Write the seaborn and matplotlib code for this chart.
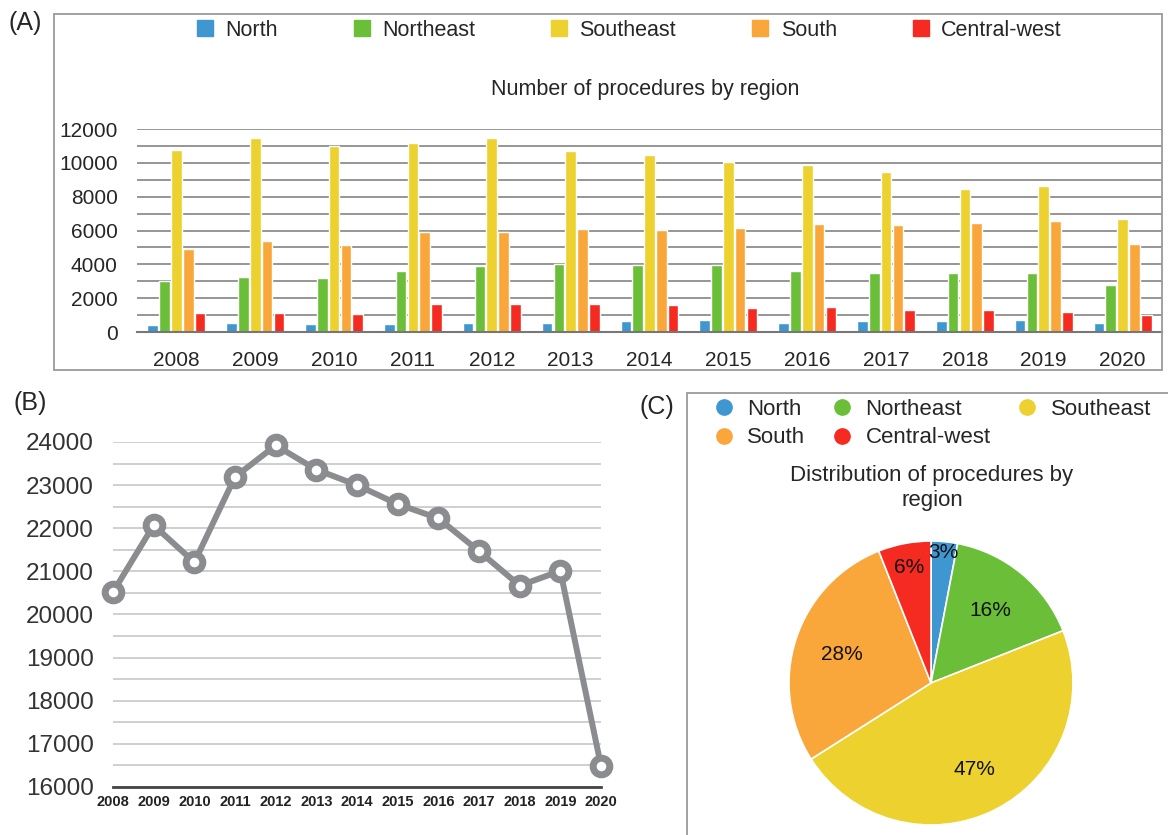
import numpy as np
import pandas as pd
import matplotlib
matplotlib.use("Agg")
import matplotlib.pyplot as plt
from matplotlib.patches import Rectangle
from matplotlib.lines import Line2D
from matplotlib.ticker import MultipleLocator, FixedLocator
import seaborn as sns

# data
years = [2008, 2009, 2010, 2011, 2012, 2013, 2014, 2015, 2016, 2017, 2018, 2019, 2020]
regions = ["North", "Northeast", "Southeast", "South", "Central-west"]
north = [410, 550, 470, 470, 550, 550, 630, 690, 550, 630, 630, 690, 550]
northeast = [3020, 3250, 3180, 3600, 3900, 4040, 3960, 3960, 3610, 3470, 3470, 3470, 2800]
southeast = [10750, 11450, 10990, 11200, 11460, 10670, 10470, 10020, 9860, 9430, 8480, 8620, 6670]
south = [4910, 5350, 5150, 5940, 5940, 6090, 6030, 6170, 6390, 6310, 6450, 6590, 5210]
central_west = [1150, 1150, 1070, 1650, 1650, 1650, 1580, 1420, 1500, 1280, 1280, 1200, 990]
totals = [20520, 22070, 21210, 23190, 23920, 23360, 23000, 22560, 22230, 21470, 20670, 21010, 16490]
share_pct = [3, 16, 47, 28, 6]

colors = ["#3f97d1", "#6bbe37", "#ecd12f", "#f9a73a", "#f52a20"]
line_gray = "#8b8c90"

sns.set_style("white")
plt.rcParams["font.family"] = ["Liberation Sans", "DejaVu Sans"]

W, H = 1168, 835
fig = plt.figure(figsize=(W / 100, H / 100), dpi=100)

def box(x0, y0, x1, y1):
    # pixel box (top-left origin) -> figure fraction rect
    return [x0 / W, 1 - y1 / H, (x1 - x0) / W, (y1 - y0) / H]

# panel frames
for x0, y0, x1, y1 in [(54, 14, 1162, 370), (687, 393, 1175, 845)]:
    fig.patches.append(Rectangle((x0 / W, 1 - y1 / H), (x1 - x0) / W, (y1 - y0) / H,
                                 transform=fig.transFigure, fill=False,
                                 edgecolor="#9a9a9a", lw=1.3, zorder=0))

# ---------- (A) bars ----------
counts = pd.DataFrame({"year": years, "North": north, "Northeast": northeast,
                       "Southeast": southeast, "South": south,
                       "Central-west": central_west})
counts = counts.melt(id_vars="year", var_name="region", value_name="procedures")

ax_a = fig.add_axes(box(137, 129, 1162, 332))
sns.barplot(data=counts, x="year", y="procedures", hue="region", hue_order=regions,
            palette=colors, saturation=1, width=0.75, gap=0.1, legend=False, ax=ax_a)
ax_a.set_ylim(0, 12000)
ax_a.set_xlim(-0.5, len(years) - 0.5)
ax_a.yaxis.set_major_locator(MultipleLocator(2000))
ax_a.yaxis.set_minor_locator(MultipleLocator(1000))
ax_a.grid(axis="y", which="both", color="#8e8e8e", lw=1.3)
ax_a.set_axisbelow(True)
ax_a.xaxis.set_minor_locator(FixedLocator(np.arange(-0.5, len(years), 1)))
ax_a.tick_params(axis="x", which="major", length=0, pad=14, labelsize=15)
ax_a.tick_params(axis="x", which="minor", length=4, color="#777777", direction="out")
ax_a.tick_params(axis="y", length=0, pad=14, labelsize=15)
ax_a.set_xlabel("")
ax_a.set_ylabel("")
for s in ["top", "left", "right"]:
    ax_a.spines[s].set_visible(False)
ax_a.spines["bottom"].set_color("#777777")
ax_a.spines["bottom"].set_linewidth(1.5)

sq = [Line2D([], [], ls="", marker="s", ms=11, color=c) for c in colors]
fig.legend(sq, regions, loc="upper left", bbox_to_anchor=(194 / W, 1 - 20 / H),
           ncol=5, frameon=False, fontsize=15.5, handlelength=1, handletextpad=0.45,
           columnspacing=3.4, borderpad=0, borderaxespad=0)
fig.text(645 / W, 1 - 90 / H, "Number of procedures by region", ha="center",
         va="center", fontsize=15.5)

# ---------- (B) totals ----------
ax_b = fig.add_axes(box(113, 442, 601, 787))
sns.lineplot(x=years, y=totals, ax=ax_b, color=line_gray, lw=4.3, marker="o",
             markersize=12, markerfacecolor="white", markeredgecolor=line_gray,
             markeredgewidth=5, clip_on=False, zorder=5)
ax_b.set_xlim(years[0], years[-1])
ax_b.set_ylim(16000, 24000)
ax_b.set_xticks(years)
ax_b.yaxis.set_major_locator(MultipleLocator(1000))
ax_b.yaxis.set_minor_locator(MultipleLocator(500))
ax_b.grid(axis="y", which="both", color="#cccccc", lw=1.3)
ax_b.tick_params(axis="y", length=0, pad=14, labelsize=17.5, labelcolor="#333333")
ax_b.tick_params(axis="x", length=0, pad=6, labelsize=10.5)
for lab in ax_b.get_xticklabels():
    lab.set_fontweight("bold")
    lab.set_color("#222222")
for s in ["top", "left", "right"]:
    ax_b.spines[s].set_visible(False)
ax_b.spines["bottom"].set_color("#444444")
ax_b.spines["bottom"].set_linewidth(2)

# ---------- (C) pie ----------
ax_c = fig.add_axes(box(789, 541, 1073, 825))
wedges, _, autotexts = ax_c.pie(share_pct, colors=colors, startangle=90,
                                counterclock=False, autopct=lambda p: f"{p:.0f}%",
                                pctdistance=0.67,
                                wedgeprops=dict(edgecolor="white", linewidth=1.2),
                                textprops=dict(fontsize=15, color="#111111"))
label_r = [0.92, 0.66, 0.68, 0.66, 0.83]
for w, t, r in zip(wedges, autotexts, label_r):
    ang = np.deg2rad((w.theta1 + w.theta2) / 2)
    t.set_position((r * np.cos(ang), r * np.sin(ang)))
ax_c.set_xlim(-1, 1)
ax_c.set_ylim(-1, 1)

dots = [Line2D([], [], ls="", marker="o", ms=11, color=c) for c in colors]
order = [0, 3, 1, 4, 2]
fig.legend([dots[i] for i in order], [regions[i] for i in order], loc="upper left",
           bbox_to_anchor=(713 / W, 1 - 399 / H), ncol=3, frameon=False, fontsize=16,
           handlelength=1, handletextpad=0.55, columnspacing=1.15, labelspacing=0.33,
           borderpad=0, borderaxespad=0)
fig.text(932 / W, 1 - 488 / H, "Distribution of procedures by\nregion", ha="center",
         va="center", fontsize=16, linespacing=1.3)

# panel letters
for txt, x, y in [("(A)", 25, 23), ("(B)", 30, 403), ("(C)", 657, 407)]:
    fig.text(x / W, 1 - y / H, txt, ha="center", va="center", fontsize=18)

fig.savefig("out.png", dpi=100)
